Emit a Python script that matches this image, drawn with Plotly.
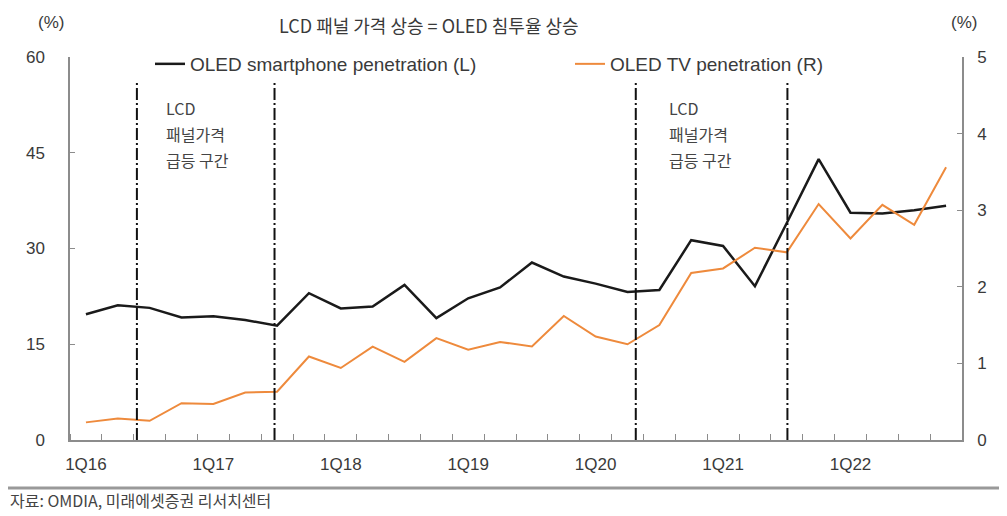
import plotly.graph_objects as go

quarters = [f"{q}Q{y}" for y in range(16, 23) for q in range(1, 5)]
smartphone = [19.7, 21.1, 20.7, 19.2, 19.4, 18.8, 17.9, 23.0, 20.6, 20.9, 24.3, 19.1, 22.2, 23.9,
              27.8, 25.6, 24.5, 23.2, 23.5, 31.3, 30.4, 24.1, 34.0, 44.0, 35.6, 35.5, 36.0, 36.7]
tv = [0.23, 0.28, 0.25, 0.48, 0.47, 0.62, 0.63, 1.09, 0.94, 1.22, 1.02, 1.33, 1.18, 1.28,
      1.22, 1.62, 1.35, 1.25, 1.50, 2.18, 2.24, 2.51, 2.45, 3.08, 2.63, 3.07, 2.81, 3.56]
tick_labels = ["1Q16", "1Q17", "1Q18", "1Q19", "1Q20", "1Q21", "1Q22"]
left_ticks = [0, 15, 30, 45, 60]
right_ticks = [0, 1, 2, 3, 4, 5]
# LCD panel price surge periods (in quarter-index units)
surge_edges = [1.6, 5.92, 17.26, 22.02]
surge_text_x = [2.45, 18.25]
surge_lines = ["LCD", "패널가격", "급등 구간"]

xs = list(range(len(quarters)))
FONT = "Liberation Sans, Arial, Noto Sans CJK KR"
KFONT = "Noto Sans CJK KR, Liberation Sans"
AX = "#8c8c8c"
TXT = "#3a3a3a"

# page -> paper helpers (the figure is placed at an 8px body offset)
PL, PR, PT, PB = 70, 962, 57, 440
def px(x):
    return (x - PL) / (PR - PL)
def py(y):
    return (PB - y) / (PB - PT)

fig = go.Figure()
fig.add_trace(go.Scatter(x=xs, y=smartphone, mode="lines", name="OLED smartphone penetration (L)",
                         line=dict(color="#1a1a1a", width=2.5), yaxis="y", legend="legend"))
fig.add_trace(go.Scatter(x=xs, y=tv, mode="lines", name="OLED TV penetration (R)",
                         line=dict(color="#ee8a3c", width=2), yaxis="y2", legend="legend2"))

for e in surge_edges:
    fig.add_shape(type="line", xref="x", yref="paper", x0=e, x1=e, y0=0, y1=py(82),
                  line=dict(color="#111111", width=2, dash="12px,3px,2px,3px"))

for sx in surge_text_x:
    for i, t in enumerate(surge_lines):
        fig.add_annotation(x=sx, xref="x", xanchor="left", yanchor="middle",
                           y=py(108 + i * 26), yref="paper",
                           text=t, showarrow=False, font=dict(family=KFONT, size=16, color="#444"))

fig.add_annotation(text="LCD 패널 가격 상승 = OLED 침투율 상승", x=px(429), xref="paper",
                   y=py(25), yref="paper", showarrow=False, xanchor="center", yanchor="middle",
                   font=dict(family=KFONT, size=18, color=TXT))
fig.add_annotation(text="(%)", x=px(51), xref="paper", y=py(22), yref="paper",
                   showarrow=False, xanchor="center", yanchor="middle", font=dict(family=FONT, size=17, color=TXT))
fig.add_annotation(text="(%)", x=px(964), xref="paper", y=py(22), yref="paper",
                   showarrow=False, xanchor="center", yanchor="middle", font=dict(family=FONT, size=17, color=TXT))
fig.add_annotation(text="자료: OMDIA, 미래에셋증권 리서치센터", x=px(8), xref="paper",
                   y=py(500), yref="paper", showarrow=False, xanchor="left", yanchor="middle",
                   font=dict(family=KFONT, size=16, color="#444"))
fig.add_shape(type="line", xref="paper", yref="paper", x0=px(0), x1=px(1007),
              y0=py(488), y1=py(488), line=dict(color="#999999", width=3))

leg_font = dict(family=FONT, size=19, color=TXT)
fig.update_layout(
    width=999, height=508, margin=dict(l=PL - 8, r=1007 - PR, t=PT - 8, b=516 - PB),
    paper_bgcolor="white", plot_bgcolor="white",
    font=dict(family=FONT, size=17, color=TXT),
    showlegend=True,
    legend=dict(x=px(150), xanchor="left", y=py(64), yanchor="middle", bgcolor="rgba(0,0,0,0)",
                font=leg_font, borderwidth=0),
    legend2=dict(x=px(570), xanchor="left", y=py(64), yanchor="middle", bgcolor="rgba(0,0,0,0)",
                 font=leg_font, borderwidth=0),
    xaxis=dict(range=[-0.5, len(xs) - 0.5], tickvals=[0, 4, 8, 12, 16, 20, 24], ticktext=tick_labels,
               showline=True, linecolor=AX, linewidth=1.5, ticks="", showgrid=False, zeroline=False,
               tickfont=dict(size=17, color=TXT), ticklabelstandoff=8,
               minor=dict(tick0=0.5, dtick=1, ticks="inside", ticklen=6, tickcolor=AX, tickwidth=1, showgrid=False)),
    yaxis=dict(range=[0, 60], tickvals=left_ticks, showline=True, linecolor=AX, linewidth=1.5,
               ticks="inside", ticklen=5, tickcolor=AX, showgrid=False, zeroline=False,
               tickfont=dict(size=17, color=TXT), ticklabelstandoff=20),
    yaxis2=dict(range=[0, 5], tickvals=right_ticks, overlaying="y", side="right", showline=True,
                linecolor=AX, linewidth=1.5, ticks="inside", ticklen=5, tickcolor=AX, showgrid=False,
                zeroline=False, tickfont=dict(size=17, color=TXT), ticklabelstandoff=10),
)

fig.write_html("out.html")
